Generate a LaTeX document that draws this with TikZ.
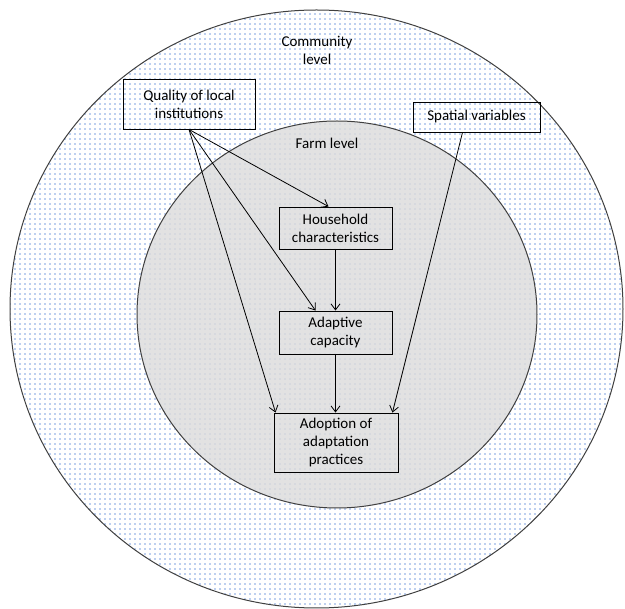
\documentclass[tikz,border=0pt]{standalone}
\usepackage{fontspec}
\setmainfont{Carlito}
\usetikzlibrary{arrows.meta}
\usetikzlibrary{patterns.meta}

\definecolor{dotblue}{RGB}{125,160,225}
\definecolor{farmgray}{RGB}{226,226,226}

\begin{document}
\begin{tikzpicture}[x = 1pt, y = -1pt, font = \fontsize{15}{18}\selectfont,
    box/.style = {draw, line width = 0.9pt, align = center, inner sep = 0pt},
    link/.style = {-{Straight Barb[length = 6pt, width = 9pt]}, line width = 0.8pt}]

        \useasboundingbox (0,0) rectangle (625,609);

        \def\OUTER{(316.5,309) ellipse [x radius = 306.5pt, y radius = 299pt]}
        \def\INNER{(337,314.5) ellipse [x radius = 200pt, y radius = 193.5pt]}

        % Community level
        \fill[white] \OUTER;
        \fill[pattern = {Dots[distance = 5pt, radius = 0.8pt]}, pattern color = dotblue] \OUTER;
        \draw[black!75, line width = 1pt] \OUTER;

        % Farm level
        \fill[farmgray] \INNER;
        \fill[pattern = {Dots[distance = 5pt, radius = 0.7pt]}, pattern color = gray!40!dotblue!60] \INNER;
        \draw[black!75, line width = 1pt] \INNER;

        \node[align = center] (community) at (317,50) {Community\\level};
        \node (farm) at (327,143) {Farm level};

        % Draw the boxes
        \node[box, minimum width = 132pt, minimum height = 50pt] (quality) at (189,104) {Quality of local\\institutions};
        \node[box, minimum width = 127pt, minimum height = 30pt] (spatial) at (476.5,117) {Spatial variables};
        \node[box, minimum width = 113pt, minimum height = 42pt] (household) at (335.5,228) {Household\\characteristics};
        \node[box, minimum width = 113pt, minimum height = 43pt] (adaptive) at (335.5,332.5) {Adaptive\\capacity};
        \node[box, minimum width = 124pt, minimum height = 59pt] (adoption) at (336,442.5) {Adoption of\\adaptation\\practices};

        % Draw the links
        \draw[link] (quality.south) -- ([xshift = -7pt]household.north);
        \draw[link] (quality.south) -- ([xshift = -20pt]adaptive.north);
        \draw[link] (quality.south) -- ([xshift = 2pt]adoption.north west);
        \draw[link] ([xshift = -14pt]spatial.south) -- ([xshift = -6pt]adoption.north east);
        \draw[link] (household) -- (adaptive);
        \draw[link] (adaptive.south) -- (adaptive.south |- adoption.north);

    \end{tikzpicture}
\end{document}
